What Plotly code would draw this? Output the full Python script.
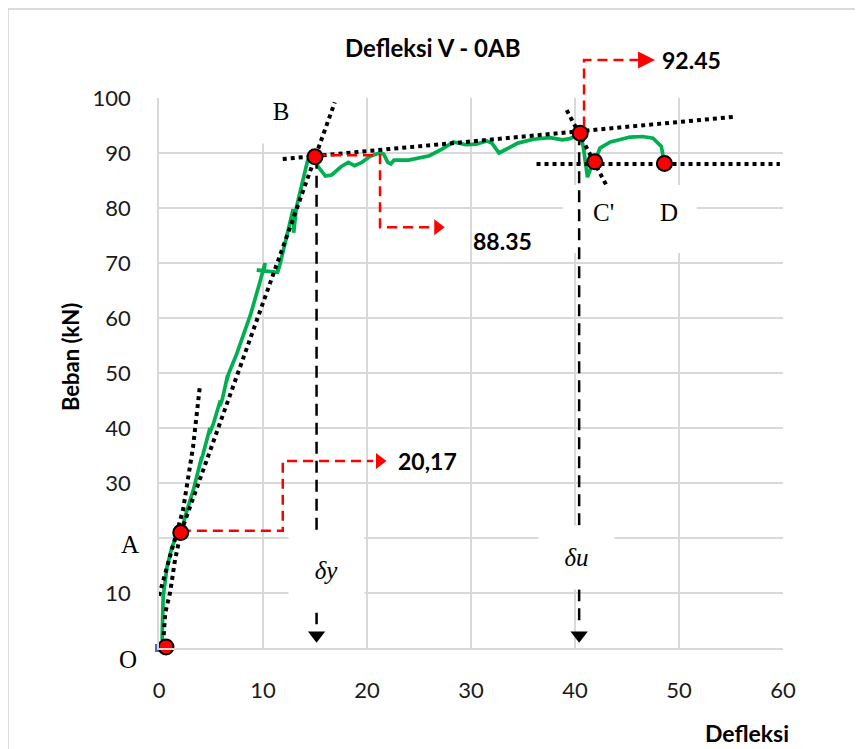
import plotly.graph_objects as go

# ---------------- data ----------------
# green load-deflection curve (deflection, load)
defl = [0.3, 0.4, 0.77, 1.25, 1.73, 2.1, 2.7, 3.3, 4.1, 4.0, 4.2, 4.9, 4.85, 5.2, 5.9, 5.85, 6.1, 6.6, 6.5, 6.7,
        7.5, 8.6, 8.75, 8.6, 8.8, 9.7, 10.2, 10.1, 9.4, 11.4, 11.6, 12.3, 12.9, 12.95, 13.2, 14.3, 15.0,
        15.3, 16.0, 16.6, 17.5, 18.2, 18.8, 19.5, 20.3, 21.2, 21.6, 22.0, 22.3, 22.6, 24.0, 26.0, 27.3,
        28.3, 28.8, 29.5, 30.5, 31.5, 32.0, 32.7, 33.2, 34.5, 36.0, 37.6, 38.8, 39.5, 40.5,
        40.8, 41.2, 41.4, 41.7, 41.9, 42.4, 43.4, 45.3, 46.5, 47.5, 48.3, 48.6]
load = [1.5, 9.3, 14.7, 18.4, 20.4, 21.0, 25.1, 28.7, 34.7, 33.8, 35.0, 40.0, 39.0, 40.6, 45.0, 44.0, 45.3, 49.6, 48.5, 49.9,
        53.6, 59.6, 60.5, 59.3, 60.6, 66.5, 70.0, 68.6, 68.7, 68.3, 69.5, 75.2, 79.8, 75.5, 80.0, 88.7, 89.3,
        87.5, 85.8, 86.0, 87.5, 88.3, 87.7, 88.3, 89.4, 90.0, 89.8, 88.3, 88.0, 88.7, 88.7, 89.5, 90.8,
        92.0, 91.8, 91.5, 91.6, 92.2, 91.8, 90.0, 90.5, 91.8, 92.5, 92.8, 92.4, 92.6, 93.5,
        91.1, 85.6, 86.5, 88.2, 88.4, 90.9, 92.0, 92.9, 93.0, 92.7, 91.2, 88.1]

# characteristic points O, A, B, C, C', D
pt_names = ["O", "A", "B", "C", "C'", "D"]
pt_x = [0.67, 2.09, 15.0, 40.5, 41.9, 48.6]
pt_y = [0.2, 21.0, 89.3, 93.6, 88.4, 88.1]

# dotted construction lines
l1_x = [0.0, 1.06, 2.31, 3.27, 3.94]
l1_y = [9.5, 16.5, 25.1, 36.5, 47.8]
l2_x = [0.4, 0.6, 1.06, 1.54, 2.1, 16.9]
l2_y = [0.9, 6.4, 10.0, 16.0, 21.0, 99.2]
l3_x = [11.9, 55.4]
l3_y = [88.9, 96.6]
l4_x = [39.2, 43.0]
l4_y = [97.8, 84.2]
l5_x = [36.3, 59.7]
l5_y = [88.0, 88.0]

# yield / ultimate deflection markers
delta_names = ["δy", "δu"]
delta_x = [15.15, 40.4]
delta_top = [89.3, 93.6]
delta_tip = [2.3, 2.3]

# red callouts
val_labels = ["20,17", "88.35", "92.45"]
r1_x = [2.1, 11.9, 11.9, 20.6]
r1_y = [21.3, 21.3, 34.0, 34.0]
r1_head = [21.2, 34.0]
r2_x = [15.0, 21.25, 21.25, 26.2]
r2_y = [89.6, 89.6, 76.5, 76.5]
r2_head = [26.8, 76.5]
r3_x = [40.87, 40.87, 46.4]
r3_y = [94.8, 106.9, 106.9]
r3_tip = [47.7, 106.9]

x_ticks = [0, 10, 20, 30, 40, 50, 60]
y_ticks = [0, 10, 20, 30, 40, 50, 60, 70, 80, 90, 100]
y_ticktext = ["", "10", "", "30", "40", "50", "60", "70", "80", "90", "100"]

# ---------------- figure ----------------
GREEN = "#00B050"
RED = "#FF0000"
GRID = "#D9D9D9"
SANS = "Lato"
SERIF = "Liberation Serif"

fig = go.Figure()

fig.add_trace(go.Scatter(x=defl, y=load, mode="lines",
                         line=dict(color=GREEN, width=3.7), hoverinfo="skip"))

for lx, ly in [(l1_x, l1_y), (l2_x, l2_y), (l3_x, l3_y), (l4_x, l4_y), (l5_x, l5_y)]:
    fig.add_trace(go.Scatter(x=lx, y=ly, mode="lines",
                             line=dict(color="black", width=4, dash="dot"), hoverinfo="skip"))

for rx, ry in [(r1_x, r1_y), (r2_x, r2_y)]:
    fig.add_trace(go.Scatter(x=rx, y=ry, mode="lines",
                             line=dict(color=RED, width=2.5, dash="10px,6px"), hoverinfo="skip"))

heads = [r1_head, r2_head]
fig.add_trace(go.Scatter(x=[h[0] for h in heads], y=[h[1] for h in heads], mode="markers",
                         marker=dict(symbol="triangle-right", size=14, color=RED),
                         cliponaxis=False, hoverinfo="skip"))

for dx, top, tip in zip(delta_x, delta_top, delta_tip):
    fig.add_trace(go.Scatter(x=[dx, dx], y=[top, tip + 2], mode="lines",
                             line=dict(color="black", width=2.5, dash="12px,7px"), hoverinfo="skip"))
fig.add_trace(go.Scatter(x=delta_x, y=delta_tip, mode="markers",
                         marker=dict(symbol="triangle-down", size=15, color="black"),
                         cliponaxis=False, hoverinfo="skip"))

# small blue series marker at origin
fig.add_trace(go.Scatter(x=[0], y=[0], mode="markers",
                         marker=dict(symbol="square", size=8, color="#4472C4"),
                         cliponaxis=False, hoverinfo="skip"))

fig.add_trace(go.Scatter(x=pt_x, y=pt_y, mode="markers",
                         marker=dict(symbol="circle", size=15, color=RED,
                                     line=dict(color="black", width=2)),
                         cliponaxis=False, hoverinfo="skip"))

shapes = [
    # outer chart border
    dict(type="rect", xref="paper", yref="paper", x0=-0.2420, x1=1.1170, y0=-0.21, y1=1.1620,
         line=dict(color="#D0D0D0", width=1.5), fillcolor="rgba(0,0,0,0)", layer="above"),
    # white label box behind C' and D
    dict(type="rect", xref="x", yref="y", x0=38.85, x1=51.7, y0=71.8, y1=84.2,
         line=dict(width=0), fillcolor="white", layer="between"),
    # 92.45 callout leaving the plot area
    dict(type="path", xref="x", yref="paper",
         path=f"M {r3_x[0]},{r3_y[0]/100} L {r3_x[1]},{r3_y[1]/100} L {r3_x[2]},{r3_y[2]/100}",
         line=dict(color=RED, width=2.5, dash="10px,6px"), layer="above"),
]

def lab(x, y, text, size=25, family=SERIF, xref="x", yref="y", **kw):
    d = dict(x=x, y=y, xref=xref, yref=yref, text=text, showarrow=False,
             xanchor="center", yanchor="middle",
             font=dict(family=family, size=size, color="black"))
    d.update(kw)
    return d

ann = [
    # white boxes with labels
    lab(11.75, 97.6, "B", width=58, height=62, bgcolor="white"),
    lab(35.9, 100.5, "C", width=64, height=40, bgcolor="white"),
    lab(16.1, 14.1, "<i>δy</i>", size=25, width=73, height=72, bgcolor="white"),
    lab(40.15, 16.45, "<i>δu</i>", size=25, width=73, height=61, bgcolor="white"),
    lab(42.7, 79.1, "C'"),
    lab(49.0, 79.1, "D"),
    lab(-0.0465, 0.189, "A", xref="paper", yref="paper"),
    lab(-0.0497, -0.0218, "O", xref="paper", yref="paper"),
    # value labels
    lab(22.8, 34.0, f"<b>{val_labels[0]}</b>", size=23, family=SANS, xanchor="left"),
    lab(30.0, 74.0, f"<b>{val_labels[1]}</b>", size=23, family=SANS, xanchor="left"),
    lab(48.2, r3_y[1] / 100, f"<b>{val_labels[2]}</b>", size=23, family=SANS, yref="paper", xanchor="left"),
    # arrowhead of the 92.45 callout
    dict(x=r3_tip[0], y=r3_tip[1] / 100, xref="x", yref="paper", text="", showarrow=True,
         ax=-10, ay=0, arrowhead=2, arrowwidth=2, arrowsize=1.7, arrowcolor=RED),
    # titles
    lab(0.4375, 1.0927, "<b>Defleksi V - 0AB</b>", size=24, family=SANS, xref="paper", yref="paper"),
    lab(-0.1426, 0.529, "<b>Beban (kN)</b>", size=22, family=SANS, xref="paper", yref="paper", textangle=-90),
    lab(0.9423, -0.1545, "<b>Defleksi</b>", size=23, family=SANS, xref="paper", yref="paper"),
]

fig.update_layout(
    width=863, height=749,
    margin=dict(l=151, r=88, t=90, b=109),
    paper_bgcolor="white", plot_bgcolor="white",
    showlegend=False,
    shapes=shapes, annotations=ann,
    xaxis=dict(range=[0, 60], tickvals=x_ticks, showgrid=True, gridcolor=GRID, gridwidth=1.5,
               zeroline=False, showline=True, linecolor=GRID, linewidth=1.5,
               ticks="", ticklabelstandoff=22,
               tickfont=dict(family=SANS, size=22, color="#1a1a1a"), fixedrange=True),
    yaxis=dict(range=[0, 100], tickvals=y_ticks, ticktext=y_ticktext, showgrid=True, gridcolor=GRID,
               gridwidth=1.5, zeroline=False, showline=True, linecolor=GRID, linewidth=1.5,
               ticks="", ticklabelstandoff=22,
               tickfont=dict(family=SANS, size=22, color="#1a1a1a"), fixedrange=True),
)

fig.write_html("out.html")
